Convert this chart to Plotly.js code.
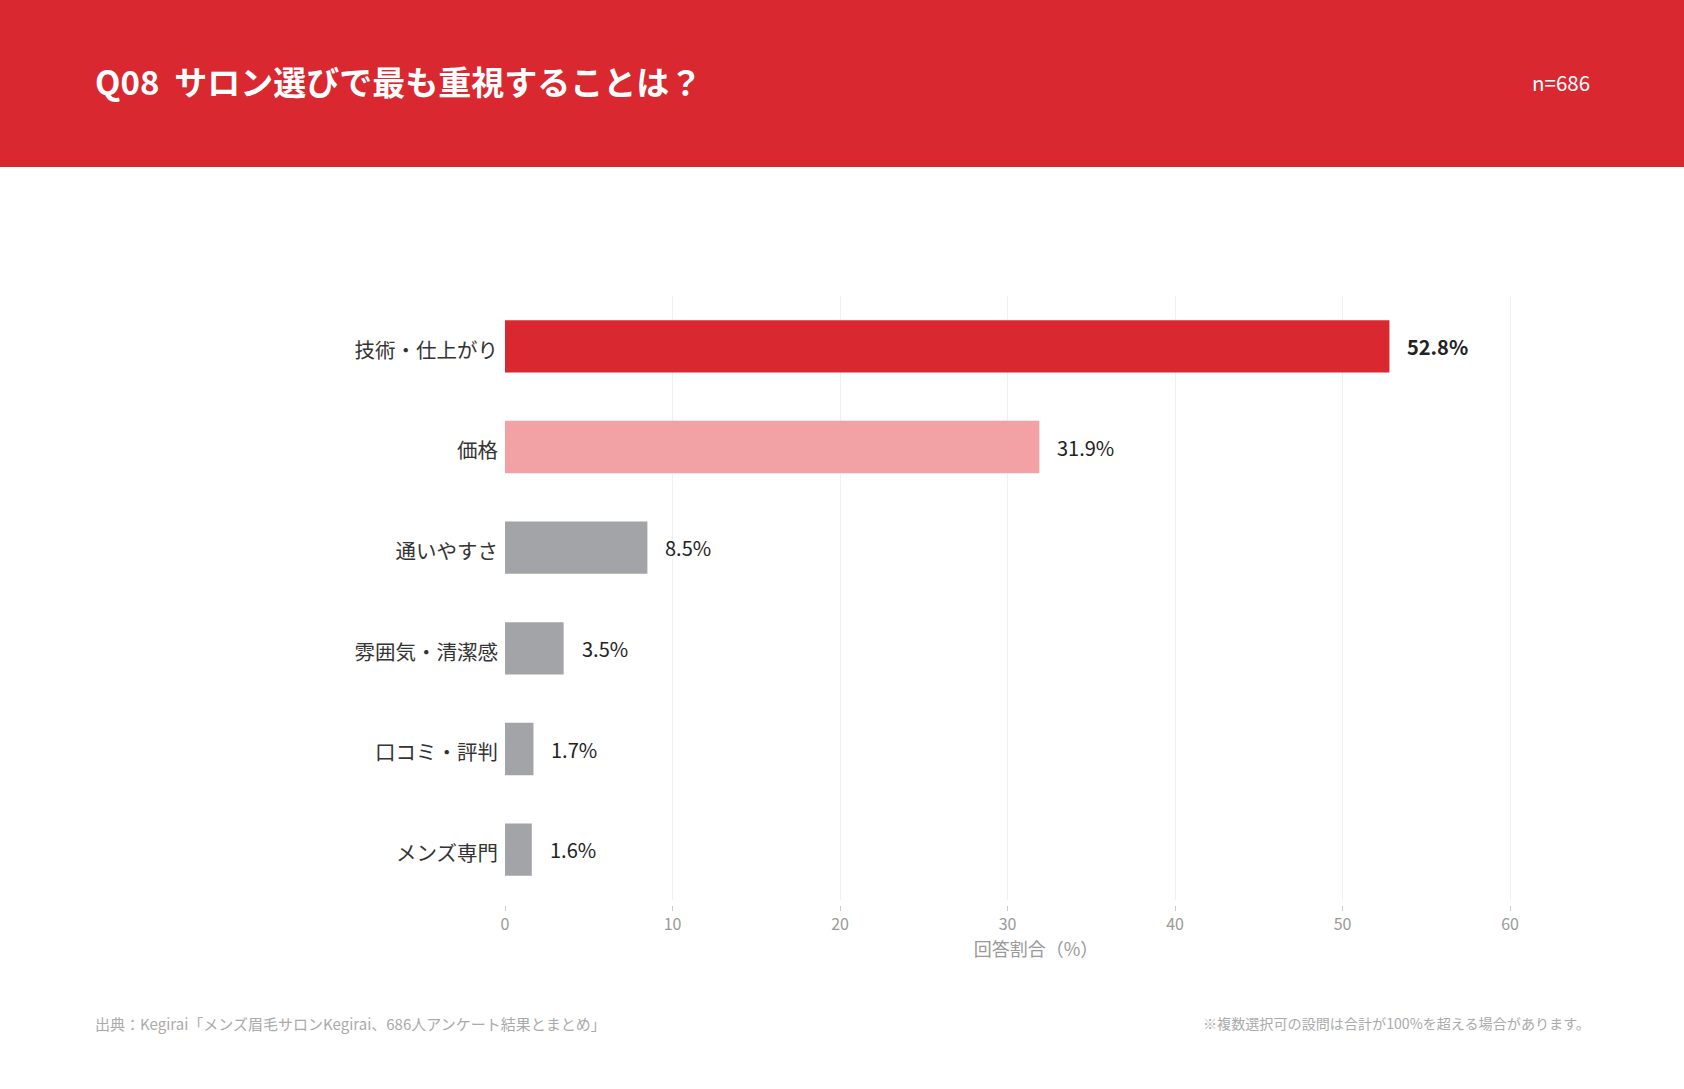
<!DOCTYPE html>
<html>
<head>
<meta charset="utf-8">
<script src="https://cdn.plot.ly/plotly-3.0.1.min.js"></script>
<style>
  html, body { margin: 0; padding: 0; background: #fff; }
  #chart { width: 1684px; height: 1089px; }
</style>
</head>
<body>
<div id="chart"></div>
<script>
// data
const categories = ['技術・仕上がり', '価格', '通いやすさ', '雰囲気・清潔感', '口コミ・評判', 'メンズ専門'];
const shares = [52.8, 31.9, 8.5, 3.5, 1.7, 1.6];
const barColors = ['#d9282f', '#f2a1a5', '#a3a4a8', '#a3a4a8', '#a3a4a8', '#a3a4a8'];
const xTicks = [0, 10, 20, 30, 40, 50, 60];

const titleText = 'Q08  サロン選びで最も重視することは？';
const sampleText = 'n=686';
const sourceText = '出典：Kegirai「メンズ眉毛サロンKegirai、686人アンケート結果とまとめ」';
const noteText = '※複数選択可の設問は合計が100%を超える場合があります。';

const FONT = '"Noto Sans CJK JP", "Noto Sans", sans-serif';

// page geometry (px) -> paper coords
const W = 1684, H = 1089;
const M = { l: 505, r: 117, t: 296, b: 184 };
const plotW = W - M.l - M.r;
const plotH = H - M.t - M.b;
const px2x = (x) => (x - M.l) / plotW;
const px2y = (y) => (H - M.b - y) / plotH;

const trace = {
    type: 'bar',
    orientation: 'h',
    x: shares,
    y: categories,
    marker: { color: barColors },
    width: 0.52,
    hoverinfo: 'skip'
};

const valueLabels = shares.map((v, i) => ({
    x: v,
    y: categories[i],
    xref: 'x',
    yref: 'y',
    xanchor: 'left',
    yanchor: 'middle',
    xshift: 16,
    showarrow: false,
    text: i === 0 ? `<b>${v.toFixed(1)}%</b>` : `${v.toFixed(1)}%`,
    font: { family: FONT, size: 20, color: '#222' }
}));

const pageTexts = [
    {
        x: px2x(93), y: px2y(81), xref: 'paper', yref: 'paper',
        xanchor: 'left', yanchor: 'middle', showarrow: false,
        text: `<b>${titleText}</b>`,
        font: { family: FONT, size: 33, color: '#ffffff' }
    },
    {
        x: px2x(1592), y: px2y(82), xref: 'paper', yref: 'paper',
        xanchor: 'right', yanchor: 'middle', showarrow: false,
        text: sampleText,
        font: { family: FONT, size: 20.5, color: '#ffffff' }
    },
    {
        x: px2x(93), y: px2y(1023), xref: 'paper', yref: 'paper',
        xanchor: 'left', yanchor: 'middle', showarrow: false,
        text: sourceText,
        font: { family: FONT, size: 15, color: '#aaaaaa' }
    },
    {
        x: px2x(1592), y: px2y(1023), xref: 'paper', yref: 'paper',
        xanchor: 'right', yanchor: 'middle', showarrow: false,
        text: noteText,
        font: { family: FONT, size: 14.1, color: '#aaaaaa' }
    }
];

const layout = {
    width: W,
    height: H,
    margin: M,
    paper_bgcolor: '#ffffff',
    plot_bgcolor: '#ffffff',
    font: { family: FONT, color: '#222' },
    showlegend: false,
    xaxis: {
        range: [0, 63.4],
        tickvals: xTicks,
        ticks: 'outside',
        ticklen: 5,
        tickcolor: '#cccccc',
        tickfont: { family: FONT, size: 16, color: '#999999' },
        showgrid: true,
        gridcolor: '#f0f0f0',
        gridwidth: 1,
        zeroline: false,
        showline: false,
        anchor: 'free',
        position: 0,
        fixedrange: true,
        title: {
            text: '回答割合（%）',
            font: { family: FONT, size: 18, color: '#999999' },
            standoff: 0
        }
    },
    yaxis: {
        domain: [5 / plotH, 1],
        autorange: 'reversed',
        type: 'category',
        ticks: '',
        ticklabelstandoff: 6,
        ticklabelshift: -4,
        tickfont: { family: FONT, size: 20.5, color: '#333333' },
        showgrid: false,
        zeroline: false,
        showline: false,
        fixedrange: true
    },
    shapes: [{
        type: 'rect', xref: 'paper', yref: 'paper', layer: 'below',
        x0: px2x(0), x1: px2x(W), y0: px2y(167), y1: px2y(0),
        fillcolor: '#d9282f', line: { width: 0 }
    }],
    annotations: valueLabels.concat(pageTexts)
};

Plotly.newPlot('chart', [trace], layout, { displayModeBar: false, staticPlot: true });
</script>
</body>
</html>
